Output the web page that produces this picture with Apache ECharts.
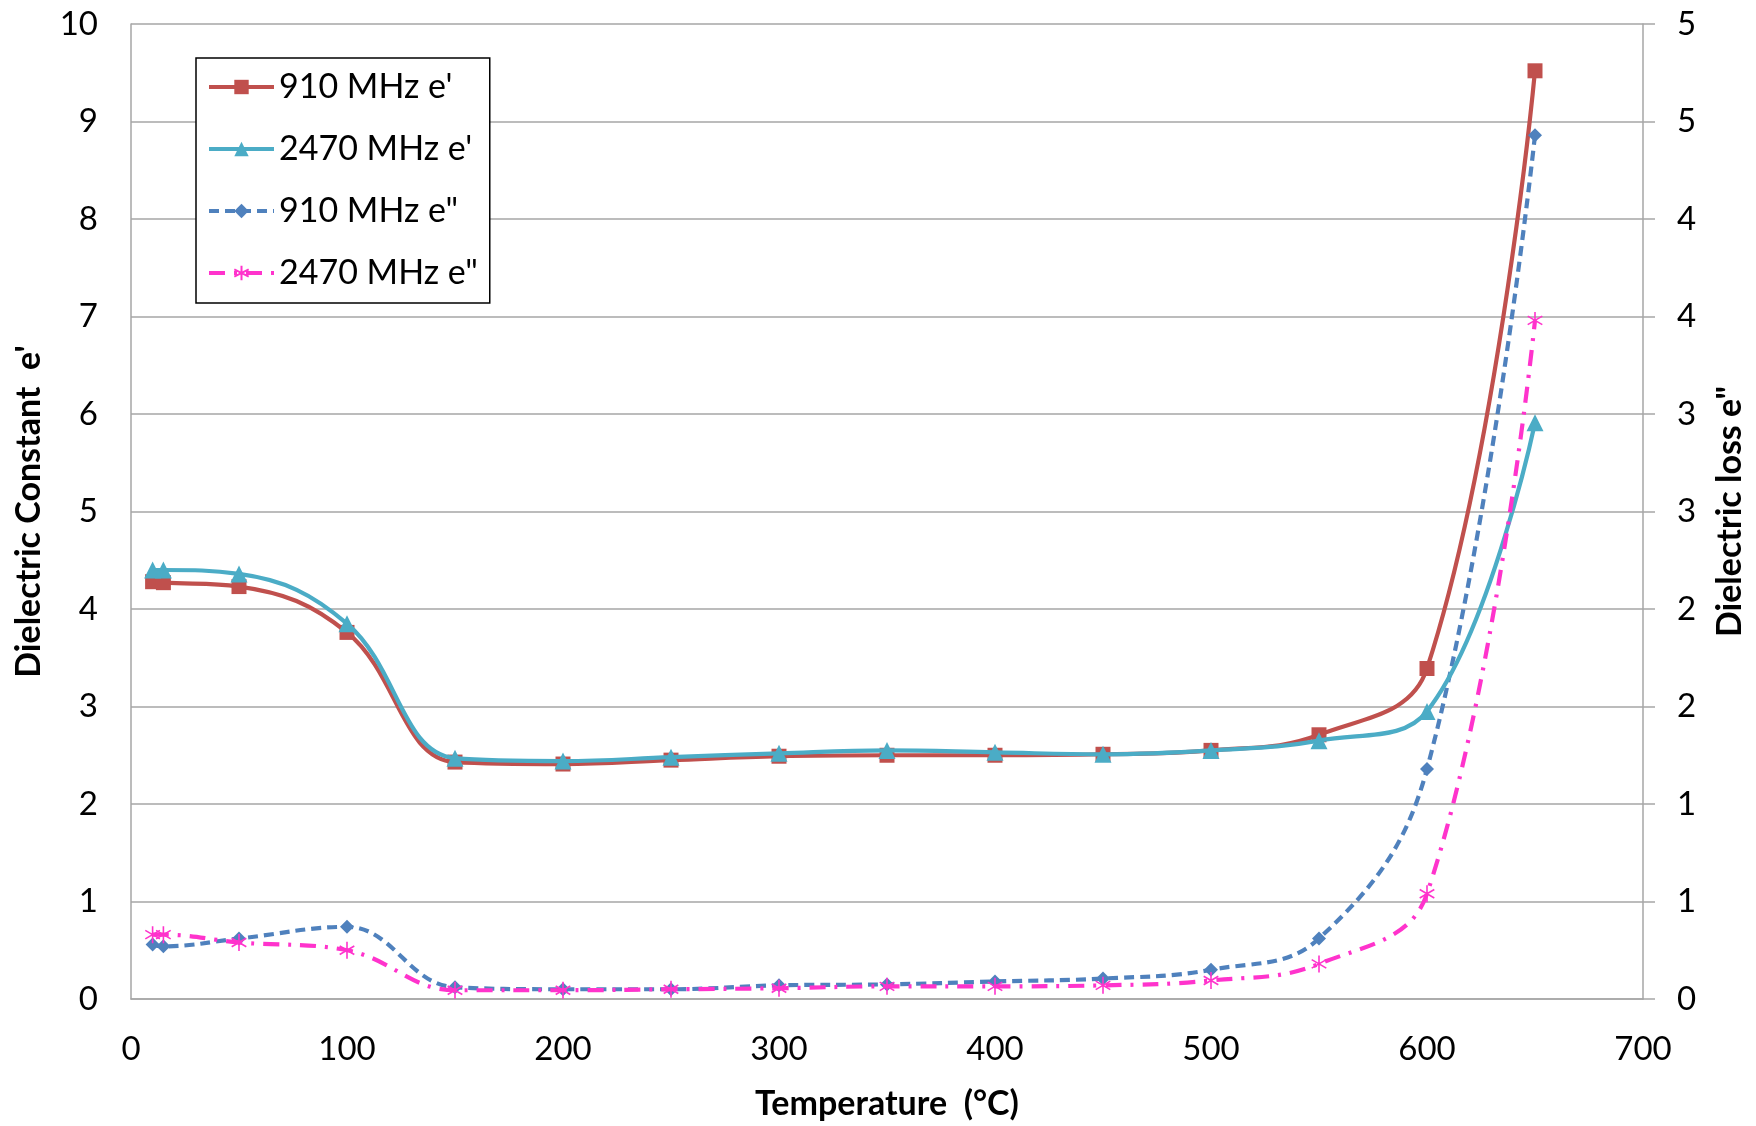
<!DOCTYPE html>
<html>
<head>
<meta charset="utf-8">
<title>Dielectric properties vs temperature</title>
<script src="https://cdn.jsdelivr.net/npm/echarts@6/dist/echarts.min.js"></script>
<style>
  html, body { margin: 0; padding: 0; background: #fff; }
  #chart { width: 1756px; height: 1126px; }
</style>
</head>
<body>
<div id="chart"></div>
<script>
// Measurement temperatures (°C)
const temperatures = [10, 15, 50, 100, 150, 200, 250, 300, 350, 400, 450, 500, 550, 600, 650];

// Dielectric constant e' (left axis)
const e1_910 = [4.28, 4.27, 4.23, 3.76, 2.43, 2.41, 2.45, 2.49, 2.50, 2.50, 2.51, 2.55, 2.71, 3.39, 9.52];
const e1_2470 = [4.40, 4.40, 4.36, 3.85, 2.47, 2.44, 2.48, 2.52, 2.55, 2.53, 2.51, 2.55, 2.65, 2.95, 5.91];

// Dielectric loss e'' (right axis)
const e2_910 = [0.28, 0.27, 0.31, 0.37, 0.06, 0.05, 0.05, 0.07, 0.075, 0.09, 0.105, 0.15, 0.31, 1.18, 4.43];
const e2_2470 = [0.33, 0.33, 0.29, 0.25, 0.045, 0.045, 0.05, 0.055, 0.065, 0.065, 0.07, 0.095, 0.18, 0.54, 3.48];

const seriesNames = ["910 MHz e'", "2470 MHz e'", "910 MHz e\"", "2470 MHz e\""];
const leftTickLabels = ['0', '1', '2', '3', '4', '5', '6', '7', '8', '9', '10'];
const rightTickLabels = ['0', '1', '1', '2', '2', '3', '3', '4', '4', '5', '5'];

const pair = (ys) => temperatures.map((t, i) => [t, ys[i]]);

const FONT = 'Lato, "Open Sans", sans-serif';
const GRID = '#a6a6a6';
const asterisk = 'path://M5,0L5,10M0.7,2.5L9.3,7.5M9.3,2.5L0.7,7.5';

const chart = echarts.init(document.getElementById('chart'));
chart.setOption({
  animation: false,
  backgroundColor: '#fff',
  textStyle: { fontFamily: FONT, color: '#000' },
  grid: { left: 131, right: 113, top: 24, bottom: 126, containLabel: false },
  legend: {
    left: 196, top: 58,
    orient: 'vertical',
    itemGap: 22,
    itemWidth: 65,
    itemHeight: 18,
    padding: [9, 12, 10, 11],
    borderColor: '#000',
    borderWidth: 1.5,
    backgroundColor: '#fff',
    lineStyle: { width: 4 },
    textStyle: { fontFamily: FONT, fontSize: 34, lineHeight: 40, color: '#000' },
    data: seriesNames
  },
  xAxis: {
    type: 'value',
    min: 0, max: 700, interval: 100,
    name: 'Temperature  (°C)',
    nameLocation: 'middle',
    nameGap: 88,
    nameTextStyle: { fontFamily: FONT, fontSize: 34, fontWeight: 'bold', color: '#000' },
    axisLine: { show: true, lineStyle: { color: GRID, width: 1.5 } },
    axisTick: { show: false },
    splitLine: { show: false },
    axisLabel: { fontSize: 33, color: '#000', margin: 34 }
  },
  yAxis: [
    {
      type: 'value',
      min: 0, max: 10, interval: 1,
      position: 'left',
      name: "Dielectric Constant  e'",
      nameLocation: 'middle',
      nameGap: 85,
      nameRotate: 90,
      nameTextStyle: { fontFamily: FONT, fontSize: 34, fontWeight: 'bold', color: '#000' },
      axisLine: { show: true, lineStyle: { color: GRID, width: 1.5 } },
      axisTick: { show: false },
      splitLine: { show: true, lineStyle: { color: GRID, width: 1.5 } },
      axisLabel: {
        fontSize: 33, color: '#000', margin: 33,
        formatter: (v) => leftTickLabels[Math.round(v)]
      }
    },
    {
      type: 'value',
      min: 0, max: 5, interval: 0.5,
      position: 'right',
      name: 'Dielectric loss e"',
      nameLocation: 'middle',
      nameGap: 70,
      nameRotate: 90,
      nameTextStyle: { fontFamily: FONT, fontSize: 34, fontWeight: 'bold', color: '#000' },
      axisLine: { show: true, lineStyle: { color: GRID, width: 1.5 } },
      axisTick: { show: true, inside: false, length: 12, lineStyle: { color: GRID, width: 1.5 } },
      splitLine: { show: false },
      axisLabel: {
        fontSize: 33, color: '#000', margin: 34,
        formatter: (v) => rightTickLabels[Math.round(v * 2)]
      }
    }
  ],
  series: [
    {
      name: seriesNames[0], type: 'line', yAxisIndex: 0,
      data: pair(e1_910), smooth: 0.4,
      symbol: 'rect', symbolSize: 15,
      lineStyle: { color: '#C0504D', width: 4.2 },
      itemStyle: { color: '#C0504D' }, z: 3
    },
    {
      name: seriesNames[1], type: 'line', yAxisIndex: 0,
      data: pair(e1_2470), smooth: 0.4,
      symbol: 'triangle', symbolSize: 17,
      lineStyle: { color: '#4BACC6', width: 4.2 },
      itemStyle: { color: '#4BACC6' }, z: 4
    },
    {
      name: seriesNames[2], type: 'line', yAxisIndex: 1,
      data: pair(e2_910), smooth: 0.4,
      symbol: 'diamond', symbolSize: 14,
      lineStyle: { color: '#4F81BD', width: 4.2, type: [10, 6] },
      itemStyle: { color: '#4F81BD' }, z: 3
    },
    {
      name: seriesNames[3], type: 'line', yAxisIndex: 1,
      data: pair(e2_2470), smooth: 0.4,
      symbol: asterisk, symbolSize: 17, symbolKeepAspect: true,
      lineStyle: { color: '#FF33CC', width: 4.2, type: [16, 9, 3, 9] },
      itemStyle: { color: 'rgba(0,0,0,0)', borderColor: '#FF33CC', borderWidth: 1.6 }, z: 4
    }
  ]
});
</script>
</body>
</html>
